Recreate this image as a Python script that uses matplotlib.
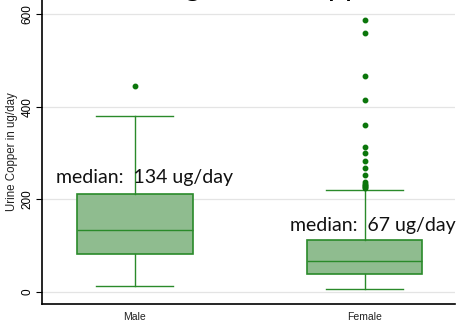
import matplotlib
matplotlib.use("Agg")
import matplotlib.pyplot as plt

# box statistics (ug/day)
groups = ["Male", "Female"]
whislo = [13, 5]
q1 = [81, 38]
med = [134, 67]
q3 = [212, 112]
whishi = [380, 221]
fliers = [
    [445],
    [588, 560, 466, 415, 360, 312, 300, 283, 267, 253, 238, 234, 231, 228, 226, 224],
]
median_labels = ["median:  134 ug/day", "median:  67 ug/day"]
label_y = [235, 132]
label_x = [0.043, 0.037]

edge = "#2a8a2a"
fill = "#8fbc8f"

stats = []
for i, g in enumerate(groups):
    stats.append(dict(label=g, whislo=whislo[i], q1=q1[i], med=med[i],
                      q3=q3[i], whishi=whishi[i], fliers=fliers[i]))

fig = plt.figure(figsize=(4.59, 3.24), dpi=100)
ax = fig.add_axes([42 / 459, 20 / 324, 413 / 459, 304 / 324])

ax.bxp(stats, positions=[0, 1], widths=0.503, capwidths=0.336,
       patch_artist=True,
       boxprops=dict(facecolor=fill, edgecolor=edge, linewidth=1.2),
       medianprops=dict(color=edge, linewidth=1.0),
       whiskerprops=dict(color=edge, linewidth=1.0),
       capprops=dict(color=edge, linewidth=1.0),
       flierprops=dict(marker="o", markersize=3.2, markerfacecolor="#0b760b",
                       markeredgecolor="#0b760b"))

for i, t in enumerate(median_labels):
    ax.text(i + label_x[i], label_y[i], t, ha="center", va="baseline",
            fontsize=14, family="Lato", color="#111111")

ax.set_xlim(-0.403, 1.393)
ax.set_ylim(-26.6, 631)
ax.set_yticks([0, 200, 400, 600])
ax.set_yticklabels(["0", "200", "400", "600"], rotation=90, va="center",
                   fontsize=8.5, family="Liberation Sans")
ax.set_xticks([0, 1])
ax.set_xticklabels(groups, fontsize=7.5, family="Liberation Sans", color="#222222")
ax.tick_params(axis="x", length=0, pad=6)
ax.tick_params(axis="y", length=4, width=0.8, pad=2)
ax.grid(axis="y", color="#e4e4e4", linewidth=0.9)
ax.set_axisbelow(True)
ax.set_ylabel("Urine Copper in ug/day", fontsize=8.3, family="Liberation Sans",
              color="#222222", labelpad=3)
for s in ["top", "right"]:
    ax.spines[s].set_visible(False)
ax.spines["left"].set_linewidth(1.2)
ax.spines["bottom"].set_linewidth(1.2)

# title sits mostly above the canvas, only descenders show
fig.text(0.59, 1.0115, "Log Urine Copper", ha="center", va="baseline",
         fontsize=22, family="Lato")

fig.savefig("out.png", dpi=100)
